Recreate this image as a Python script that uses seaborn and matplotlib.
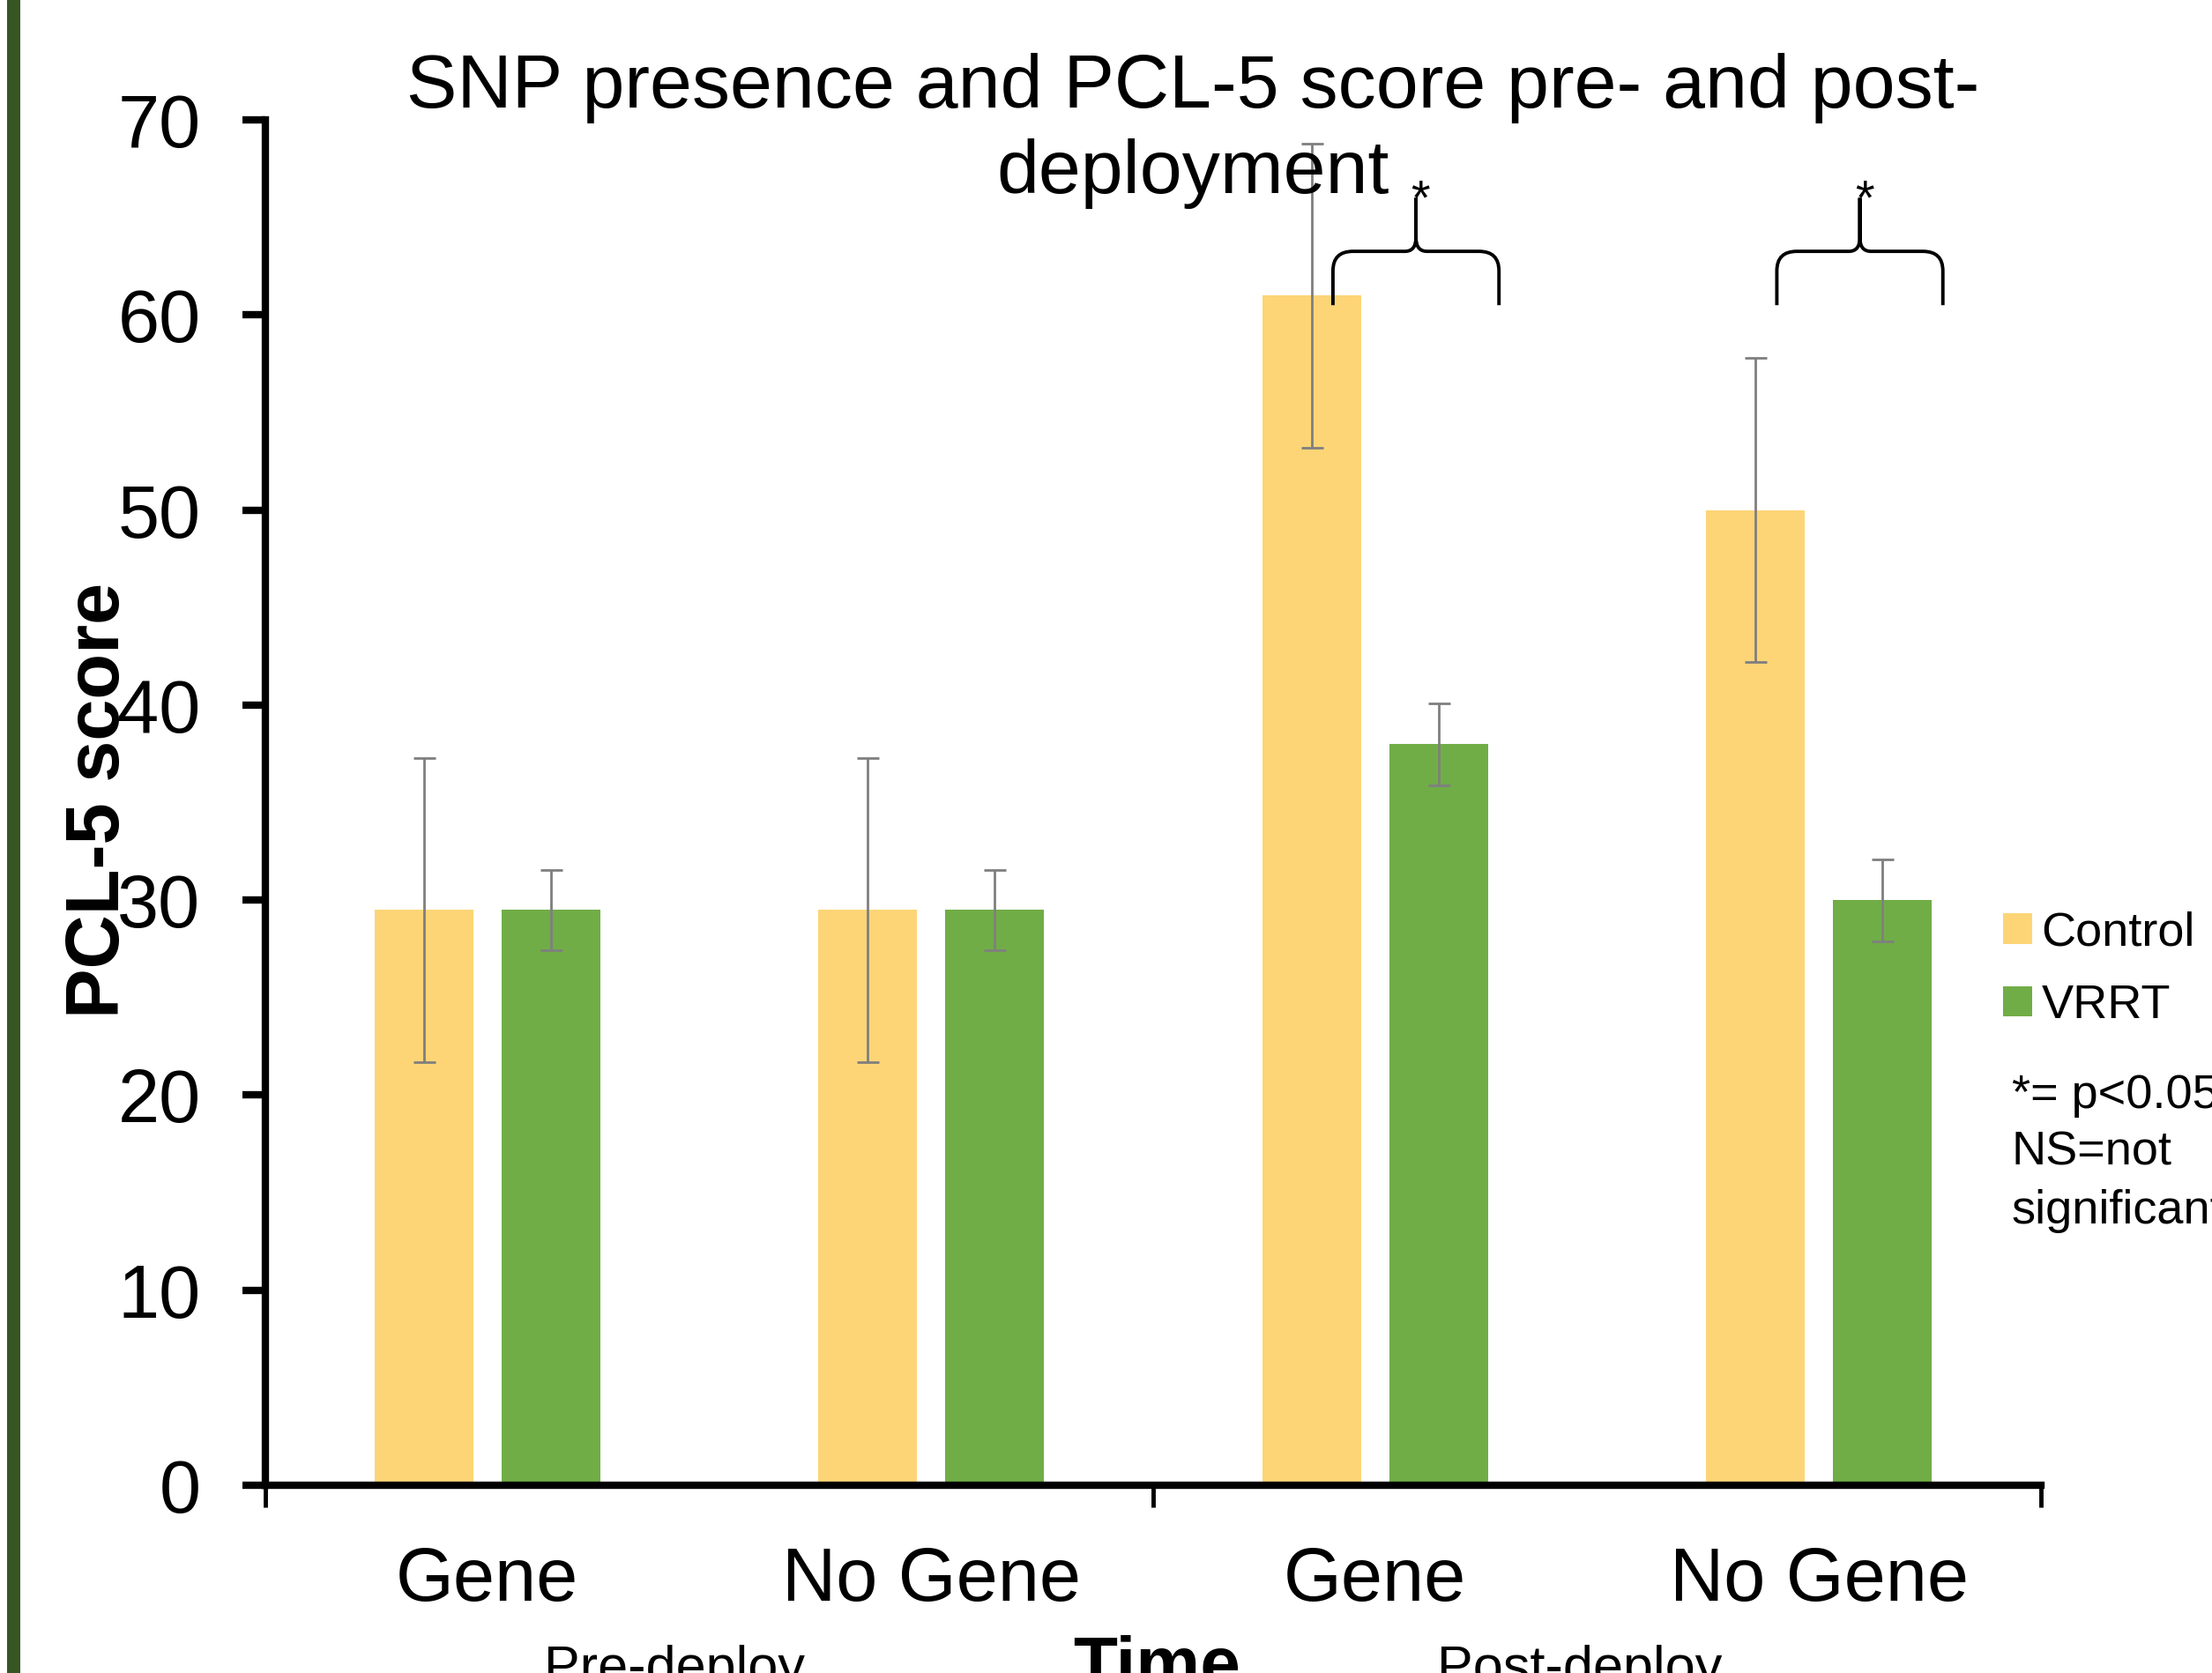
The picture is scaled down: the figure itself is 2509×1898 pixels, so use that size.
import numpy as np
import pandas as pd
import matplotlib
matplotlib.use("Agg")
import matplotlib.pyplot as plt
import seaborn as sns
from matplotlib.patches import Patch, Rectangle, PathPatch
from matplotlib.path import Path

# ---------------- data ----------------
categories = ["Pre-deploy Gene", "Pre-deploy No Gene", "Post-deploy Gene", "Post-deploy No Gene"]
tick_labels = ["Gene", "No Gene", "Gene", "No Gene"]
groups = ["Control", "VRRT"]
control_means = [29.5, 29.5, 61.0, 50.0]
vrrt_means = [29.5, 29.5, 38.0, 30.0]
control_err = [7.8, 7.8, 7.8, 7.8]
vrrt_err = [2.05, 2.05, 2.1, 2.1]
y_ticks = [0, 10, 20, 30, 40, 50, 60, 70]
significant_categories = [2, 3]
title_lines = ["SNP presence and PCL-5 score pre- and post-", "deployment"]
period_labels = ["Pre-deploy", "Post-deploy"]
note_lines = ["*= p<0.05", "NS=not", "significant"]

colors = {"Control": "#FDD577", "VRRT": "#70AD47"}
err_color = "#7F7F7F"

sns.set_style("white")
plt.rcParams["font.family"] = ["Liberation Sans", "DejaVu Sans"]
plt.rcParams["text.color"] = "black"
plt.rcParams["axes.labelcolor"] = "black"

df = pd.DataFrame({
    "category": categories * 2,
    "group": ["Control"] * len(categories) + ["VRRT"] * len(categories),
    "score": control_means + vrrt_means,
})

W, H = 2509, 1898
fig = plt.figure(figsize=(W / 100, H / 100), dpi=100)
ax = fig.add_axes([301 / W, 1 - 1685 / H, (2315 - 301) / W, (1685 - 136) / H])

sns.barplot(data=df, x="category", y="score", hue="group", order=categories,
            hue_order=groups, palette=colors, width=0.572, gap=0.22,
            saturation=1, errorbar=None, legend=False, linewidth=0, ax=ax)

errs = {"Control": control_err, "VRRT": vrrt_err}
for cont, g in zip(ax.containers, groups):
    xs = [p.get_x() + p.get_width() / 2 for p in cont.patches]
    ys = [p.get_height() for p in cont.patches]
    ax.errorbar(xs, ys, yerr=errs[g], fmt="none", ecolor=err_color,
                elinewidth=2, capsize=9, capthick=2, zorder=3)

# ---------------- axes styling ----------------
ax.set_xlim(-0.5, 3.5)
ax.set_ylim(0, 70)
ax.set_yticks(y_ticks)
ax.set_yticklabels([str(t) for t in y_ticks])
ax.set_xticks([-0.5, 1.5, 3.5])
ax.set_xticklabels(["", "", ""])
ax.set_xticks(range(len(categories)), minor=True)
ax.set_xticklabels(tick_labels, minor=True)
ax.tick_params(axis="x", which="major", direction="out", length=18, width=3.5,
               color="black", bottom=True)
ax.tick_params(axis="x", which="minor", length=0, pad=50, labelsize=61,
               labelcolor="black", bottom=True)
ax.tick_params(axis="y", which="major", direction="out", length=19, width=6,
               pad=34, labelsize=61, labelcolor="black", color="black", left=True)
for s in ["top", "right"]:
    ax.spines[s].set_visible(False)
for s in ["left", "bottom"]:
    ax.spines[s].set_linewidth(6)
    ax.spines[s].set_color("black")
ax.set_xlabel("")
ax.set_ylabel("PCL-5 score", fontsize=61, fontweight="bold", va="center")
ax.yaxis.set_label_coords(-0.0935, 0.5016)

# ---------------- significance braces ----------------
BR_L, BR_R = -0.095, 0.279
BR_TIP, BR_H, BR_PEAK = 60.5, 63.26, 66.0
RX, RY, CX, CY = 0.045, 1.0, 0.025, 0.7


def brace(L, R):
    C = (L + R) / 2
    verts, codes = [], []
    for side in (1, -1):
        E = L if side == 1 else R
        verts += [(E, BR_TIP), (E, BR_H - RY), (E, BR_H), (E + side * RX, BR_H),
                  (C - side * CX, BR_H), (C, BR_H), (C, BR_H + CY), (C, BR_PEAK)]
        codes += [Path.MOVETO, Path.LINETO, Path.CURVE3, Path.CURVE3,
                  Path.LINETO, Path.CURVE3, Path.CURVE3, Path.LINETO]
    return Path(verts, codes), C


for ci in significant_categories:
    path, cx = brace(ci + BR_L, ci + BR_R)
    ax.add_patch(PathPatch(path, facecolor="none", edgecolor="black", lw=2.8,
                           clip_on=False, zorder=4))
    ax.text(cx + 0.01, 65.2, "*", ha="center", va="baseline", fontsize=40, clip_on=False)

# ---------------- legend ----------------
handles = [Patch(facecolor=colors[g], edgecolor="none") for g in groups]
ax.legend(handles, groups, loc="center left",
          bbox_to_anchor=(2272 / W, 1 - 1100 / H), bbox_transform=fig.transFigure,
          frameon=False, fontsize=39, handlelength=0.6, handleheight=0.6,
          handletextpad=0.2, labelspacing=0.6, borderpad=0, borderaxespad=0)

for line, yb in zip(note_lines, [1257, 1322, 1388]):
    fig.text(2282 / W, 1 - yb / H, line, fontsize=39, ha="left", va="baseline")

# ---------------- title ----------------
fig.text(1353 / W, 1 - 122 / H, title_lines[0], fontsize=62, ha="center", va="baseline")
fig.text(1353 / W, 1 - 219 / H, title_lines[1], fontsize=62, ha="center", va="baseline")

# ---------------- bottom labels (cropped) ----------------
fig.text(765 / W, 1 - 1910 / H, period_labels[0], fontsize=44, ha="center", va="baseline")
fig.text(1312 / W, 1 - 1914 / H, "Time", fontsize=59, fontweight="bold", ha="center", va="baseline")
fig.text(1792 / W, 1 - 1910 / H, period_labels[1], fontsize=44, ha="center", va="baseline")

# ---------------- left border ----------------
fig.add_artist(Rectangle((8 / W, 0), 15 / W, 1, transform=fig.transFigure,
                         facecolor="#375623", edgecolor="none"))

fig.savefig("out.png", dpi=100)
